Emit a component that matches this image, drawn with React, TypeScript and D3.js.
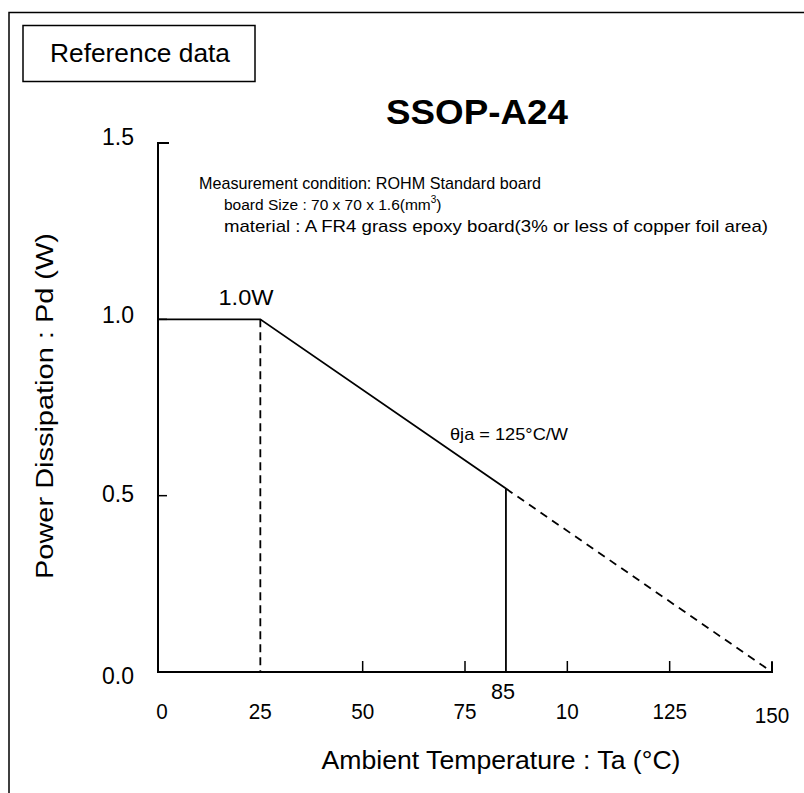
import * as d3 from "d3";

// derating curve
const curveTa = [0, 25, 85, 150];
const curvePd = [1.0, 1.0, 0.52, 0];
const solidUntil = 2; // index where the solid part ends, dashed after

const yTicks = [0, 0.5, 1.0, 1.5];
const yTickLabels = ["0.0", "0.5", "1.0", "1.5"];
const xTickValues = [0, 25, 50, 75, 100, 125, 150];
const xTickLabels = ["0", "25", "50", "75", "10", "125", "150"];
const xTickMarks = [50, 75, 100, 125, 150];

const conditionLines = [
  "Measurement condition: ROHM Standard board",
  "board Size : 70 x 70 x 1.6(mm",
  "material : A FR4 grass epoxy board(3% or less of copper foil area)",
];

const W = 804;
const H = 793;
const font = "'Liberation Sans', Arial, Helvetica, sans-serif";

const x = d3.scaleLinear().domain([0, 150]).range([158, 772]);
const y = d3.scaleLinear().domain([0, 1.5]).range([672, 143]);

const points = curveTa.map((t, i) => [t, curvePd[i]] as [number, number]);
const line = d3
  .line<[number, number]>()
  .x(d => x(d[0]))
  .y(d => y(d[1]));

// small per-label vertical nudges, the reference labels are not aligned exactly
const yLabelShift: Record<number, number> = { 0: 12, 0.5: 6, 1.0: 4, 1.5: 2 };

export default function App() {
  const solid = points.slice(0, solidUntil + 1);
  const dashed = points.slice(solidUntil);
  const knee = points[1];
  const at85 = points[solidUntil];

  return (
    <svg
      width={W}
      height={H}
      style={{ position: "absolute", left: 0, top: 0, background: "#fff" }}
      fontFamily={font}
    >
      {/* outer frame, runs off the right and bottom edges */}
      <rect x={9} y={12.5} width={W + 20} height={H + 20} fill="none" stroke="#000" strokeWidth={1.5} />

      {/* "Reference data" box */}
      <rect x={23} y={25.5} width={232} height={56} fill="none" stroke="#000" strokeWidth={1.5} />
      <text x={140} y={62} fontSize={25} textAnchor="middle" textLength={180} lengthAdjust="spacingAndGlyphs">
        Reference data
      </text>

      <text x={477} y={124} fontSize={35} fontWeight="bold" textAnchor="middle" textLength={182} lengthAdjust="spacingAndGlyphs">
        SSOP-A24
      </text>

      {/* axes */}
      <path
        d={`M${x(0) + 11},${y(1.5)} H${x(0)} V${y(0)} H${x(150)} V${y(0) - 10}`}
        fill="none"
        stroke="#000"
        strokeWidth={2}
      />
      {yTicks
        .filter(v => v > 0)
        .map(v => (
          <line key={v} x1={x(0)} x2={x(0) + 9} y1={y(v)} y2={y(v)} stroke="#000" strokeWidth={1.5} />
        ))}
      {xTickMarks.map(v => (
        <line key={v} x1={x(v)} x2={x(v)} y1={y(0)} y2={y(0) - 11} stroke="#000" strokeWidth={1.5} />
      ))}

      {/* y tick labels */}
      {yTicks.map((v, i) => (
        <text key={v} x={134} y={y(v) + yLabelShift[v]} fontSize={23} textAnchor="end">
          {yTickLabels[i]}
        </text>
      ))}

      {/* x tick labels */}
      {xTickValues.map((v, i) => (
        <text
          key={v}
          x={x(v) + (v === 0 ? 4 : 0)}
          y={v === 150 ? 723 : 719}
          fontSize={22}
          textAnchor="middle"
          textLength={xTickLabels[i].length * 11.5}
          lengthAdjust="spacingAndGlyphs"
        >
          {xTickLabels[i]}
        </text>
      ))}
      <text x={x(85) - 3} y={699} fontSize={22} textAnchor="middle" textLength={24} lengthAdjust="spacingAndGlyphs">
        85
      </text>

      {/* derating curve */}
      <path d={line(solid) ?? ""} fill="none" stroke="#000" strokeWidth={1.8} />
      <path d={line(dashed) ?? ""} fill="none" stroke="#000" strokeWidth={1.8} strokeDasharray="8 6" />
      <line
        x1={x(knee[0])}
        x2={x(knee[0])}
        y1={y(knee[1])}
        y2={y(0)}
        stroke="#000"
        strokeWidth={1.8}
        strokeDasharray="8 5"
      />
      <line x1={x(at85[0])} x2={x(at85[0])} y1={y(at85[1])} y2={y(0)} stroke="#000" strokeWidth={1.8} />

      {/* annotations */}
      <text x={246} y={305} fontSize={22} textAnchor="middle" textLength={55} lengthAdjust="spacingAndGlyphs">
        1.0W
      </text>
      <text x={450} y={440} fontSize={17} textLength={118} lengthAdjust="spacingAndGlyphs">
        θja = 125°C/W
      </text>

      <text x={199} y={189} fontSize={17} textLength={342} lengthAdjust="spacingAndGlyphs">
        {conditionLines[0]}
      </text>
      <text x={224} y={210} fontSize={15.5}>
        {conditionLines[1]}
        <tspan dy={-7} fontSize={10}>3</tspan>
        <tspan dy={7}>)</tspan>
      </text>
      <text x={224} y={232} fontSize={17} textLength={544} lengthAdjust="spacingAndGlyphs">
        {conditionLines[2]}
      </text>

      {/* axis titles */}
      <text
        transform={`translate(53, 406) rotate(-90)`}
        fontSize={23}
        textAnchor="middle"
        textLength={346}
        lengthAdjust="spacingAndGlyphs"
      >
        Power Dissipation : Pd (W)
      </text>
      <text x={501} y={769} fontSize={25} textAnchor="middle" textLength={359} lengthAdjust="spacingAndGlyphs">
        Ambient Temperature : Ta (°C)
      </text>
    </svg>
  );
}
